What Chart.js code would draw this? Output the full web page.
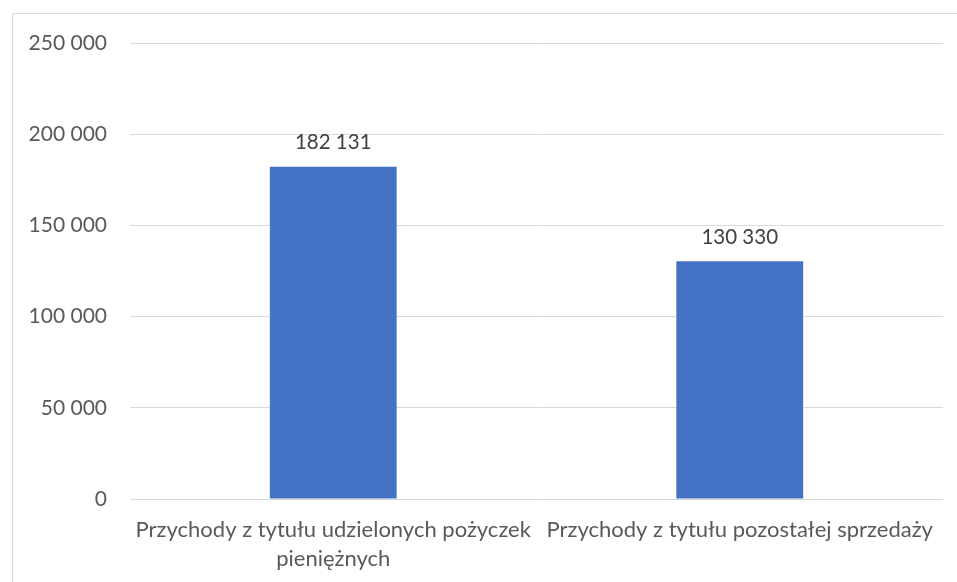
<!DOCTYPE html>
<html>
<head>
<meta charset="utf-8">
<script src="https://cdn.jsdelivr.net/npm/chart.js@4"></script>
<style>
  html, body { margin: 0; padding: 0; background: #fff; overflow: hidden; }
  #frame { position: absolute; left: 12px; top: 13px; width: 980px; height: 600px; border: 1px solid #d9d9d9; }
  #wrap { position: absolute; left: 0; top: 0; width: 957px; height: 582px; }
</style>
</head>
<body>
<div id="frame"></div>
<div id="wrap"><canvas id="myChart"></canvas></div>
<script>
let labels1 = [['Przychody z tytułu udzielonych pożyczek', 'pieniężnych'], 'Przychody z tytułu pozostałej sprzedaży'];
let data1 = [182131, 130330];
let ticks1 = [0, 50000, 100000, 150000, 200000, 250000];

function fmt(v) {
    return String(v).replace(/\B(?=(\d{3})+(?!\d))/g, ' ');
}

let barLabels = {
    id: 'barLabels',
    afterDatasetsDraw(chart) {
        let ctx = chart.ctx;
        let meta = chart.getDatasetMeta(0);
        ctx.save();
        ctx.font = '20.5px Lato';
        ctx.fillStyle = '#404040';
        ctx.textAlign = 'center';
        ctx.textBaseline = 'middle';
        meta.data.forEach((bar, i) => {
            ctx.fillText(fmt(data1[i]), bar.x, bar.y - 24);
        });
        ctx.restore();
    }
};

let myChart = document.getElementById('myChart').getContext('2d');

let chart = new Chart(myChart, {
    type: 'bar',
    data: {
        labels: labels1,
        datasets: [{
            data: data1,
            backgroundColor: '#4472C4',
            categoryPercentage: 1,
            barPercentage: 0.312
        }]
    },
    options: {
        responsive: true,
        maintainAspectRatio: false,
        animation: false,
        layout: { padding: { left: 0, top: 43, right: 14, bottom: 0 } },
        plugins: {
            legend: { display: false },
            tooltip: { enabled: false }
        },
        scales: {
            x: {
                grid: { display: false },
                border: { display: false },
                ticks: {
                    color: '#595959',
                    font: { family: 'Lato', size: 22, lineHeight: 1.32 },
                    padding: 8,
                    maxRotation: 0,
                    autoSkip: false
                },
                afterFit(scale) { scale.height = 83; }
            },
            y: {
                min: 0,
                max: 250000,
                afterBuildTicks(scale) { scale.ticks = ticks1.map(v => ({ value: v })); },
                grid: { color: '#d9d9d9', lineWidth: 1, drawTicks: false },
                border: { display: false },
                ticks: {
                    color: '#595959',
                    font: { family: 'Lato', size: 21 },
                    padding: 23,
                    callback: v => fmt(v)
                },
                afterFit(scale) { scale.width = 130; }
            }
        }
    },
    plugins: [barLabels]
});
</script>
</body>
</html>
